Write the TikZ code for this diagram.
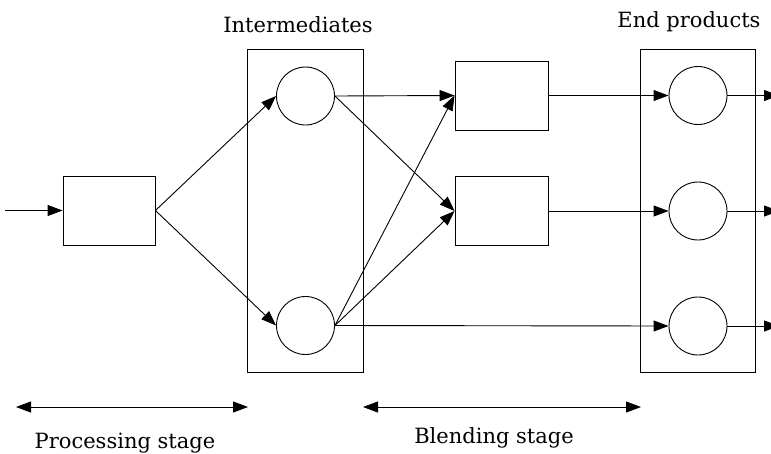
\documentclass[tikz,border=0pt]{standalone}
\usepackage{fontspec}
\setmainfont{DejaVu Serif}
\usetikzlibrary{arrows.meta}
\begin{document}
\begin{tikzpicture}[x=1pt,y=-1pt,
  every node/.style={inner sep=0pt},
  unit/.style={draw,line width=0.9pt,minimum width=92pt,minimum height=69pt},
  vessel/.style={draw,line width=0.9pt,circle,minimum size=58pt},
  group/.style={draw,line width=0.9pt},
  flow/.style={line width=0.9pt,-{Triangle[length=15pt,width=11pt]}},
  span/.style={line width=0.9pt,{Triangle[length=15pt,width=11pt]}-{Triangle[length=15pt,width=11pt]}},
  lbl/.style={anchor=base,font=\fontsize{21}{25}\selectfont}
]
\useasboundingbox (0,0) rectangle (771,453);

% group frames
\node[group,minimum width=116pt,minimum height=323pt] (inter) at (305,210.5) {};
\node[group,minimum width=115pt,minimum height=323pt] (ends) at (697.5,210.5) {};

% processing unit
\coordinate (feed) at (5,210.5);
\node[unit] (proc) at (109,210.5) {};

% intermediates
\node[vessel] (i1) at (305.5,96) {};
\node[vessel] (i2) at (305.5,325.5) {};

% blenders
\node[unit,minimum width=93pt] (b1) at (501.5,95.5) {};
\node[unit,minimum width=93pt] (b2) at (501.5,211) {};

% end products
\node[vessel] (e1) at (698,95.5) {};
\node[vessel] (e2) at (698,211) {};
\node[vessel] (e3) at (698,326) {};
\coordinate (o1) at (779,95.5);
\coordinate (o2) at (779,211);
\coordinate (o3) at (779,326);

% flows
\draw[flow] (feed) -- (proc.west);
\draw[flow] (proc.east) -- (i1.west);
\draw[flow] (proc.east) -- (i2.west);
\draw[flow] (i1.east) -- (b1.west);
\draw[flow] (i1.east) -- (b2.west);
\draw[flow] (i2.east) -- (b1.west);
\draw[flow] (i2.east) -- (b2.west);
\draw[flow] (i2.east) -- (e3.west);
\draw[flow] (b1.east) -- (e1.west);
\draw[flow] (b2.east) -- (e2.west);
\draw[flow] (e1.east) -- (o1);
\draw[flow] (e2.east) -- (o2);
\draw[flow] (e3.east) -- (o3);

% stage spans
\coordinate (p1) at (16,407);
\coordinate (p2) at (248,407);
\coordinate (s1) at (363,407);
\coordinate (s2) at (641,407);
\draw[span] (p1) -- (p2);
\draw[span] (s1) -- (s2);

% labels
\node[lbl] (tInter) at (298,32) {Intermediates};
\node[lbl] (tEnds) at (689,27) {End products};
\node[lbl] (tProc) at (125,448) {Processing stage};
\node[lbl] (tBlend) at (494,443) {Blending stage};
\end{tikzpicture}
\end{document}
